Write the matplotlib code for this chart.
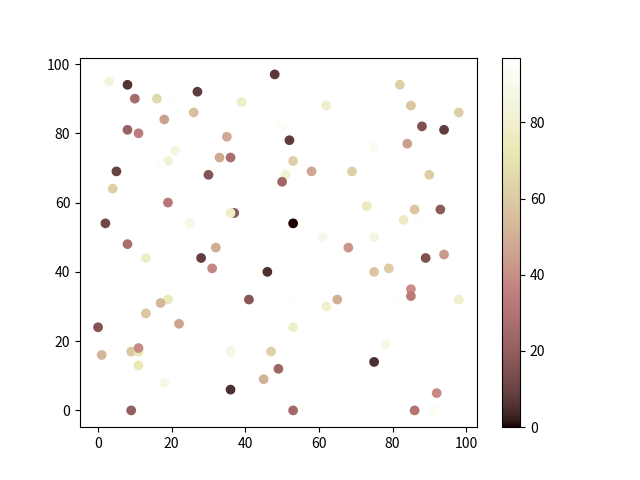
import matplotlib
matplotlib.use("Agg")
import matplotlib.pyplot as plt

plt.rcParams["font.family"] = ["Noto Sans CJK SC", "DejaVu Sans"]

# point positions and colour values
x = [3, 8, 10, 16, 20, 27, 18, 26, 8, 11, 21, 19, 17, 5, 30, 4,
     48, 39, 62, 50, 52, 35, 33, 36, 38, 53, 51, 50, 58,
     67, 69, 82, 85, 98, 88, 94, 84, 75, 90,
     19, 2, 25, 8, 13, 28, 31, 32, 19, 17, 13, 37, 36,
     53, 61, 46, 41, 52, 62, 65, 68,
     73, 86, 93, 83, 87, 75, 89, 94, 75, 79, 85, 85, 82, 98,
     0, 22, 1, 9, 11, 11, 11, 18, 9,
     53, 36, 36, 47, 49, 45, 36, 53,
     78, 75, 92, 86, 91]
y = [95, 94, 90, 90, 90, 92, 84, 86, 81, 80, 75, 72, 71, 69, 68, 64,
     97, 89, 88, 82, 78, 79, 73, 73, 70, 72, 68, 66, 69,
     68, 69, 94, 88, 86, 82, 81, 77, 76, 68,
     60, 54, 54, 48, 44, 44, 41, 47, 32, 31, 28, 57, 57,
     54, 50, 40, 32, 31, 30, 32, 47,
     59, 58, 58, 55, 55, 50, 44, 45, 40, 41, 35, 33, 31, 32,
     24, 25, 16, 17, 17, 18, 13, 8, 0,
     24, 17, 17, 17, 12, 9, 6, 0,
     19, 14, 5, 0, 0]
c = [85, 6, 26, 66, 96, 8, 45, 56, 22, 34, 86, 82, 95, 10, 16, 62,
     7, 78, 79, 94, 8, 48, 48, 27, 97, 62, 82, 24, 47,
     96, 62, 62, 58, 62, 15, 8, 44, 92, 61,
     32, 11, 88, 27, 78, 9, 38, 49, 74, 52, 58, 18, 78,
     0, 88, 5, 17, 96, 80, 50, 42,
     75, 58, 19, 77, 95, 86, 15, 43, 58, 60, 40, 33, 95, 79,
     16, 46, 52, 58, 72, 39, 73, 88, 20,
     78, 70, 88, 62, 24, 51, 5, 25,
     88, 5, 38, 30, 93]

fig, ax = plt.subplots(figsize=(6.4, 4.8), dpi=100)
sc = ax.scatter(x, y, c=c, cmap="pink")
fig.colorbar(sc, ax=ax)
fig.savefig("out.png")
